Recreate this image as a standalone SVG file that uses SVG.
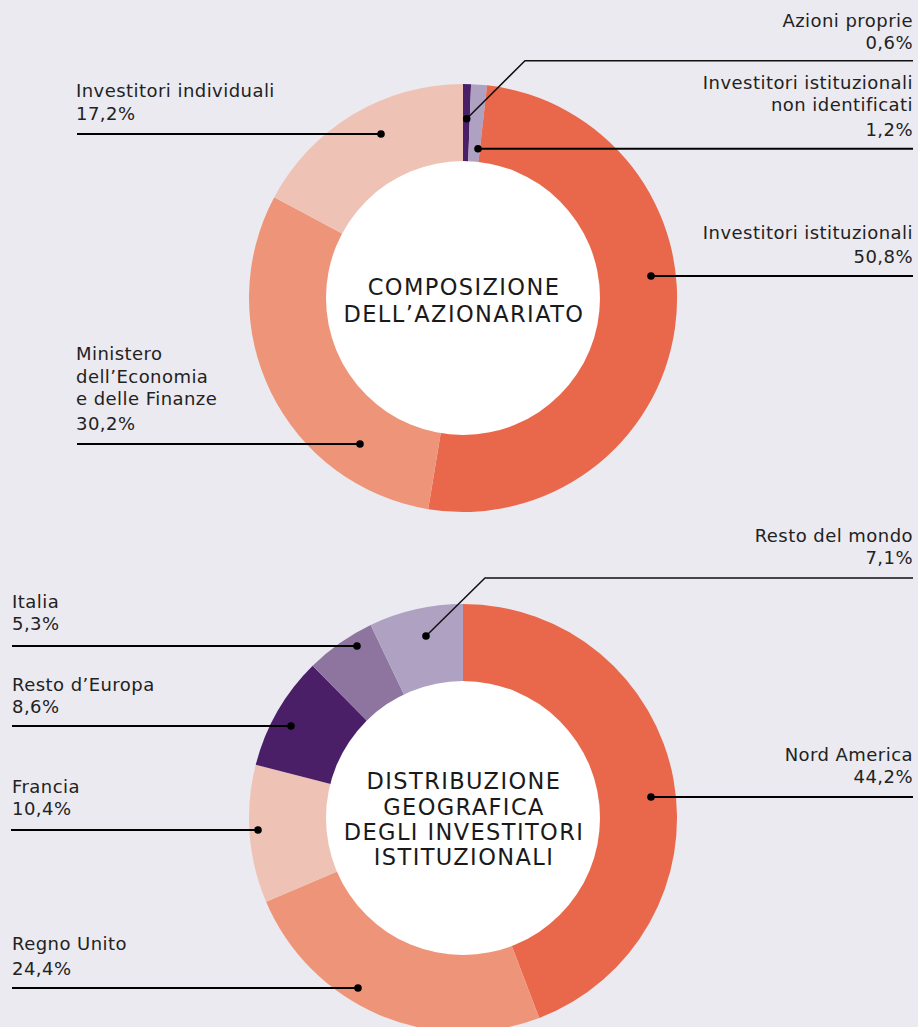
<svg xmlns="http://www.w3.org/2000/svg" width="918" height="1027" viewBox="0 0 918 1027">
<style>
.lbl{font-family:"DejaVu Sans","Liberation Sans",sans-serif;font-size:18px;fill:#222;letter-spacing:0.45px}
.r{text-anchor:end}
.ctr{font-family:"DejaVu Sans","Liberation Sans",sans-serif;font-size:22.5px;fill:#1a1a1a;text-anchor:middle;letter-spacing:1.4px}
.ln{stroke:#000;stroke-width:2;fill:none}
.ln2{stroke:#111;stroke-width:1.5;fill:none}
.dot{fill:#000}
.c1{fill:#E9674A}.c2{fill:#EE9579}.c3{fill:#EEC3B5}.c4{fill:#4A1F68}.c5{fill:#8D75A0}.c6{fill:#AFA1C2}
</style>
<rect width="918" height="1027" fill="#EBEAF0"/>
<g id="donut-composizione">
<path class="c4" d="M463 298L463 84A214 214 0 0 1 471.07 84.15Z"/>
<path class="c6" d="M463 298L471.07 84.15A214 214 0 0 1 487.15 85.37Z"/>
<path class="c1" d="M463 298L487.15 85.37A214 214 0 1 1 428.2 509.15Z"/>
<path class="c2" d="M463 298L428.2 509.15A214 214 0 0 1 274.22 197.26Z"/>
<path class="c3" d="M463 298L274.22 197.26A214 214 0 0 1 463 84Z"/>
<circle cx="463" cy="298" r="137" fill="#fff"/>
<text class="ctr" x="464" y="295">COMPOSIZIONE</text>
<text class="ctr" x="464" y="322">DELL’AZIONARIATO</text>
</g>
<g id="donut-geografica">
<path class="c1" d="M463 818L463 604A214 214 0 0 1 539.27 1017.95Z"/>
<path class="c2" d="M463 818L539.27 1017.95A214 214 0 0 1 266.06 901.75Z"/>
<path class="c3" d="M463 818L266.06 901.75A214 214 0 0 1 255.72 764.78Z"/>
<path class="c4" d="M463 818L255.72 764.78A214 214 0 0 1 312.63 665.73Z"/>
<path class="c5" d="M463 818L312.63 665.73A214 214 0 0 1 370.67 624.94Z"/>
<path class="c6" d="M463 818L370.67 624.94A214 214 0 0 1 463 604Z"/>
<circle cx="463" cy="818" r="137" fill="#fff"/>
<text class="ctr" x="464" y="789">DISTRIBUZIONE</text>
<text class="ctr" x="464" y="815">GEOGRAFICA</text>
<text class="ctr" x="464" y="840">DEGLI INVESTITORI</text>
<text class="ctr" x="464" y="865">ISTITUZIONALI</text>
</g>
<g id="connectors">
<polyline class="ln2" points="466.7,118.7 525,60.7 913,60.7"/>
<line class="ln" x1="478" y1="148.7" x2="913" y2="148.7"/>
<line class="ln" x1="651" y1="276" x2="913" y2="276"/>
<line class="ln" x1="77" y1="134" x2="381" y2="134"/>
<line class="ln" x1="77" y1="444" x2="360" y2="444"/>
<polyline class="ln2" points="426,636 485,578 913,578"/>
<line class="ln" x1="12" y1="646" x2="357" y2="646"/>
<line class="ln" x1="12" y1="726" x2="291" y2="726"/>
<line class="ln" x1="11" y1="830" x2="258" y2="830"/>
<line class="ln" x1="12" y1="988" x2="358" y2="988"/>
<line class="ln" x1="651" y1="797" x2="913" y2="797"/>
<circle class="dot" cx="466.7" cy="118.7" r="3.8"/>
<circle class="dot" cx="478" cy="148.7" r="3.8"/>
<circle class="dot" cx="651" cy="276" r="3.8"/>
<circle class="dot" cx="381" cy="134" r="3.8"/>
<circle class="dot" cx="360" cy="444" r="3.8"/>
<circle class="dot" cx="426" cy="636" r="3.8"/>
<circle class="dot" cx="357" cy="646" r="3.8"/>
<circle class="dot" cx="291" cy="726" r="3.8"/>
<circle class="dot" cx="258" cy="830" r="3.8"/>
<circle class="dot" cx="358" cy="988" r="3.8"/>
<circle class="dot" cx="651" cy="797" r="3.8"/>
</g>
<g id="label-azioni-proprie">
<text class="lbl r" x="913" y="27">Azioni proprie</text>
<text class="lbl r" x="913" y="49">0,6%</text>
</g>
<g id="label-non-identificati">
<text class="lbl r" x="913" y="89">Investitori istituzionali</text>
<text class="lbl r" x="913" y="111">non identificati</text>
<text class="lbl r" x="913" y="136">1,2%</text>
</g>
<g id="label-istituzionali">
<text class="lbl r" x="913" y="239">Investitori istituzionali</text>
<text class="lbl r" x="913" y="263">50,8%</text>
</g>
<g id="label-individuali">
<text class="lbl" x="76" y="97">Investitori individuali</text>
<text class="lbl" x="76" y="120">17,2%</text>
</g>
<g id="label-ministero">
<text class="lbl" x="76" y="360">Ministero</text>
<text class="lbl" x="76" y="383">dell’Economia</text>
<text class="lbl" x="76" y="405">e delle Finanze</text>
<text class="lbl" x="76" y="430">30,2%</text>
</g>
<g id="label-resto-mondo">
<text class="lbl r" x="913" y="542">Resto del mondo</text>
<text class="lbl r" x="913" y="564">7,1%</text>
</g>
<g id="label-italia">
<text class="lbl" x="12" y="608">Italia</text>
<text class="lbl" x="12" y="630">5,3%</text>
</g>
<g id="label-resto-europa">
<text class="lbl" x="12" y="691">Resto d’Europa</text>
<text class="lbl" x="12" y="713">8,6%</text>
</g>
<g id="label-francia">
<text class="lbl" x="12" y="793">Francia</text>
<text class="lbl" x="12" y="815">10,4%</text>
</g>
<g id="label-regno-unito">
<text class="lbl" x="12" y="950">Regno Unito</text>
<text class="lbl" x="12" y="975">24,4%</text>
</g>
<g id="label-nord-america">
<text class="lbl r" x="913" y="761">Nord America</text>
<text class="lbl r" x="913" y="783">44,2%</text>
</g>
</svg>
